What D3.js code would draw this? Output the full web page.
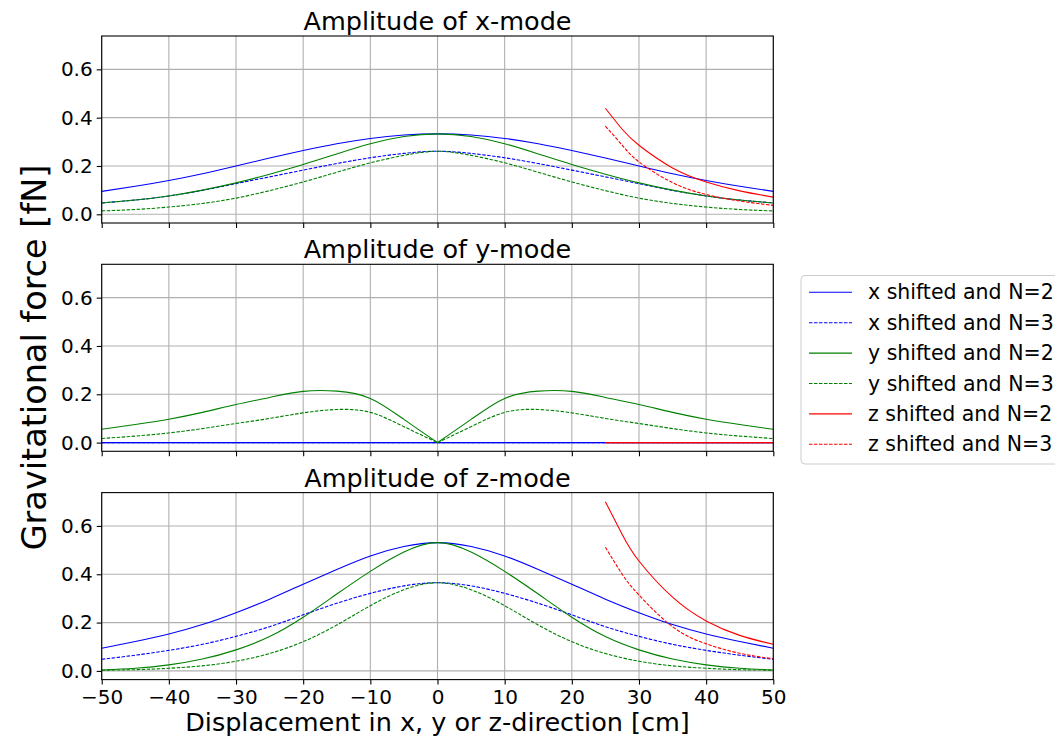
<!DOCTYPE html>
<html>
<head>
<meta charset="utf-8">
<script src="https://cdn.jsdelivr.net/npm/d3@7"></script>
<style>
  body { margin: 0; background: #fff; }
  svg { display: block; font-family: 'DejaVu Sans', sans-serif; }
</style>
</head>
<body>
<div id="chart"></div>
<script>
// displacement grid [cm]
const displacement = [-50, -45, -40, -35, -30, -25, -20, -15, -10, -5, 0, 5, 10, 15, 20, 25, 30, 35, 40, 45, 50]
// z shifted curves only start at 25 cm
const zDisplacement = [25, 27.5, 30, 35, 40, 45, 50]

const xTickValues = [-50, -40, -30, -20, -10, 0, 10, 20, 30, 40, 50]
const yTickValues = [0, 0.2, 0.4, 0.6]

const panelTitles = ['Amplitude of x-mode', 'Amplitude of y-mode', 'Amplitude of z-mode']
const legendLabels = ['x shifted and N=2', 'x shifted and N=3', 'y shifted and N=2', 'y shifted and N=3', 'z shifted and N=2', 'z shifted and N=3']

// x-mode amplitudes [fN]
const xModeXN2 = [0.095, 0.116, 0.140, 0.168, 0.200, 0.233, 0.264, 0.292, 0.314, 0.328, 0.333, 0.328, 0.314, 0.292, 0.264, 0.233, 0.200, 0.168, 0.140, 0.116, 0.095]
const xModeXN3 = [0.047, 0.059, 0.076, 0.099, 0.127, 0.155, 0.183, 0.210, 0.234, 0.252, 0.261, 0.252, 0.234, 0.210, 0.183, 0.155, 0.127, 0.099, 0.076, 0.059, 0.047]
const xModeYN2 = [0.047, 0.059, 0.076, 0.100, 0.130, 0.166, 0.206, 0.250, 0.292, 0.322, 0.333, 0.322, 0.292, 0.250, 0.206, 0.166, 0.130, 0.100, 0.076, 0.059, 0.047]
const xModeYN3 = [0.014, 0.020, 0.030, 0.045, 0.067, 0.098, 0.134, 0.174, 0.213, 0.244, 0.261, 0.244, 0.213, 0.174, 0.134, 0.098, 0.067, 0.045, 0.030, 0.020, 0.014]
const xModeZN2 = [0.439, 0.352, 0.286, 0.192, 0.134, 0.097, 0.071]
const xModeZN3 = [0.365, 0.286, 0.217, 0.131, 0.082, 0.055, 0.037]

// y-mode amplitudes [fN]
const yModeXN2 = [0, 0, 0, 0, 0, 0, 0, 0, 0, 0, 0, 0, 0, 0, 0, 0, 0, 0, 0, 0, 0]
const yModeXN3 = [0, 0, 0, 0, 0, 0, 0, 0, 0, 0, 0, 0, 0, 0, 0, 0, 0, 0, 0, 0, 0]
const yModeYN2 = [0.055, 0.075, 0.097, 0.125, 0.158, 0.187, 0.212, 0.213, 0.183, 0.096, 0, 0.096, 0.183, 0.213, 0.212, 0.187, 0.158, 0.125, 0.097, 0.075, 0.055]
const yModeYN3 = [0.017, 0.027, 0.040, 0.058, 0.079, 0.100, 0.123, 0.137, 0.125, 0.066, 0, 0.066, 0.125, 0.137, 0.123, 0.100, 0.079, 0.058, 0.040, 0.027, 0.017]
const yModeZN2 = [0, 0, 0, 0, 0, 0, 0]
const yModeZN3 = [0, 0, 0, 0, 0, 0, 0]

// z-mode amplitudes [fN]
const zModeXN2 = [0.094, 0.122, 0.153, 0.192, 0.241, 0.297, 0.359, 0.420, 0.476, 0.515, 0.531, 0.515, 0.476, 0.420, 0.359, 0.297, 0.241, 0.192, 0.153, 0.122, 0.094]
const zModeXN3 = [0.048, 0.065, 0.085, 0.110, 0.143, 0.183, 0.232, 0.280, 0.321, 0.352, 0.365, 0.352, 0.321, 0.280, 0.232, 0.183, 0.143, 0.110, 0.085, 0.065, 0.048]
const zModeYN2 = [0.004, 0.011, 0.025, 0.049, 0.087, 0.142, 0.222, 0.318, 0.412, 0.492, 0.531, 0.492, 0.412, 0.318, 0.222, 0.142, 0.087, 0.049, 0.025, 0.011, 0.004]
const zModeYN3 = [0.003, 0.005, 0.011, 0.021, 0.040, 0.072, 0.121, 0.190, 0.270, 0.336, 0.365, 0.336, 0.270, 0.190, 0.121, 0.072, 0.040, 0.021, 0.011, 0.005, 0.003]
const zModeZN2 = [0.700, 0.565, 0.455, 0.305, 0.207, 0.147, 0.110]
const zModeZN3 = [0.512, 0.400, 0.314, 0.183, 0.112, 0.073, 0.050]

const dash = '3.5,1.5'
const styles = [
  { color: '#0000ff', dash: null },
  { color: '#0000ff', dash: dash },
  { color: '#008000', dash: null },
  { color: '#008000', dash: dash },
  { color: '#ff0000', dash: null },
  { color: '#ff0000', dash: dash }
]

const panels = [
  [xModeXN2, xModeXN3, xModeYN2, xModeYN3, xModeZN2, xModeZN3],
  [yModeXN2, yModeXN3, yModeYN2, yModeYN3, yModeZN2, yModeZN3],
  [zModeXN2, zModeXN3, zModeYN2, zModeYN3, zModeZN2, zModeZN3]
]

const width = 1055
const height = 737
const plotLeft = 101.7
const plotRight = 773.3
const panelTops = [36, 264.3, 492.6]
const panelHeight = 187
const tickFont = 20

const svg = d3.select('#chart')
  .append('svg')
  .attr('width', width)
  .attr('height', height)

const xScale = d3.scaleLinear()
  .domain([-50, 50])
  .range([plotLeft, plotRight])

function toPoints (values) {
  const xs = values.length === zDisplacement.length ? zDisplacement : displacement
  return values.map((v, k) => ({ x: xs[k], y: v }))
}

function drawPanel (series, p) {
  const top = panelTops[p]
  const bottom = top + panelHeight
  const yScale = d3.scaleLinear()
    .domain([-0.036, 0.738])
    .range([bottom, top])

  const g = svg.append('g').classed('panel', true)

  g.append('clipPath')
    .attr('id', `clip-${p}`)
    .append('rect')
    .attr('x', plotLeft)
    .attr('y', top)
    .attr('width', plotRight - plotLeft)
    .attr('height', panelHeight)

  // grid
  g.append('g')
    .selectAll('line')
    .data(xTickValues)
    .join('line')
    .attr('x1', (d) => xScale(d))
    .attr('x2', (d) => xScale(d))
    .attr('y1', top)
    .attr('y2', bottom)
    .attr('stroke', '#b0b0b0')
    .attr('stroke-width', 1.1)

  g.append('g')
    .selectAll('line')
    .data(yTickValues)
    .join('line')
    .attr('x1', plotLeft)
    .attr('x2', plotRight)
    .attr('y1', (d) => yScale(d))
    .attr('y2', (d) => yScale(d))
    .attr('stroke', '#b0b0b0')
    .attr('stroke-width', 1.1)

  // curves
  const line = d3.line()
    .x((d) => xScale(d.x))
    .y((d) => yScale(d.y))
    .curve(d3.curveNatural)

  const lines = g.append('g').attr('clip-path', `url(#clip-${p})`)
  series.forEach((values, s) => {
    const pts = toPoints(values)
    // the y-mode has a cusp at 0, draw both halves separately
    const parts = (p === 1 && values[10] === 0 && d3.max(values) > 0)
      ? [pts.filter((d) => d.x <= 0), pts.filter((d) => d.x >= 0)]
      : [pts]
    parts.forEach((part) => {
      lines.append('path')
        .attr('d', line(part))
        .attr('fill', 'none')
        .attr('stroke', styles[s].color)
        .attr('stroke-width', 1.1)
        .attr('stroke-dasharray', styles[s].dash)
    })
  })

  // axes
  const xAxis = d3.axisBottom(xScale)
    .tickValues(xTickValues)
    .tickSize(5)
    .tickPadding(5)
    .tickFormat(p === 2 ? d3.format('d') : () => '')

  const yAxis = d3.axisLeft(yScale)
    .tickValues(yTickValues)
    .tickSize(5)
    .tickPadding(4)
    .tickFormat(d3.format('.1f'))

  g.append('g')
    .attr('transform', `translate(0,${bottom})`)
    .call(xAxis)
    .call(styleAxis)

  g.append('g')
    .attr('transform', `translate(${plotLeft},0)`)
    .call(yAxis)
    .call(styleAxis)

  g.append('rect')
    .attr('x', plotLeft)
    .attr('y', top)
    .attr('width', plotRight - plotLeft)
    .attr('height', panelHeight)
    .attr('fill', 'none')
    .attr('stroke', '#000')
    .attr('stroke-width', 1.1)

  g.append('text')
    .attr('x', (plotLeft + plotRight) / 2)
    .attr('y', top - 6)
    .attr('text-anchor', 'middle')
    .style('font-size', '25.5px')
    .text(panelTitles[p])
}

function styleAxis (sel) {
  sel.select('.domain').remove()
  sel.selectAll('.tick line').attr('stroke', '#000').attr('stroke-width', 1.1)
  sel.selectAll('.tick text')
    .attr('fill', '#000')
    .style('font-size', `${tickFont}px`)
    .style('font-family', "'DejaVu Sans', sans-serif")
}

function drawLegend () {
  const lg = svg.append('g').classed('legend', true)
  lg.append('rect')
    .attr('x', 801)
    .attr('y', 275.5)
    .attr('width', 300)
    .attr('height', 188.5)
    .attr('rx', 4)
    .attr('fill', '#fff')
    .attr('fill-opacity', 0.8)
    .attr('stroke', '#cccccc')

  const rows = lg.selectAll('.serie')
    .data(legendLabels)
    .join('g')
    .classed('serie', true)
    .attr('transform', (d, i) => `translate(0,${292.3 + i * 30.4})`)

  rows.append('line')
    .attr('x1', 809)
    .attr('x2', 852)
    .attr('stroke', (d, i) => styles[i].color)
    .attr('stroke-width', 1.1)
    .attr('stroke-dasharray', (d, i) => styles[i].dash)

  rows.append('text')
    .attr('x', 868)
    .attr('y', 7)
    .style('font-size', '20.5px')
    .text((d) => d)
}

panels.forEach(drawPanel)
drawLegend()

svg.append('text')
  .attr('x', (plotLeft + plotRight) / 2)
  .attr('y', 731)
  .attr('text-anchor', 'middle')
  .style('font-size', '25.5px')
  .text('Displacement in x, y or z-direction [cm]')

svg.append('text')
  .attr('transform', 'translate(46,357.5) rotate(-90)')
  .attr('text-anchor', 'middle')
  .style('font-size', '33.5px')
  .text('Gravitational force [fN]')
</script>
</body>
</html>
